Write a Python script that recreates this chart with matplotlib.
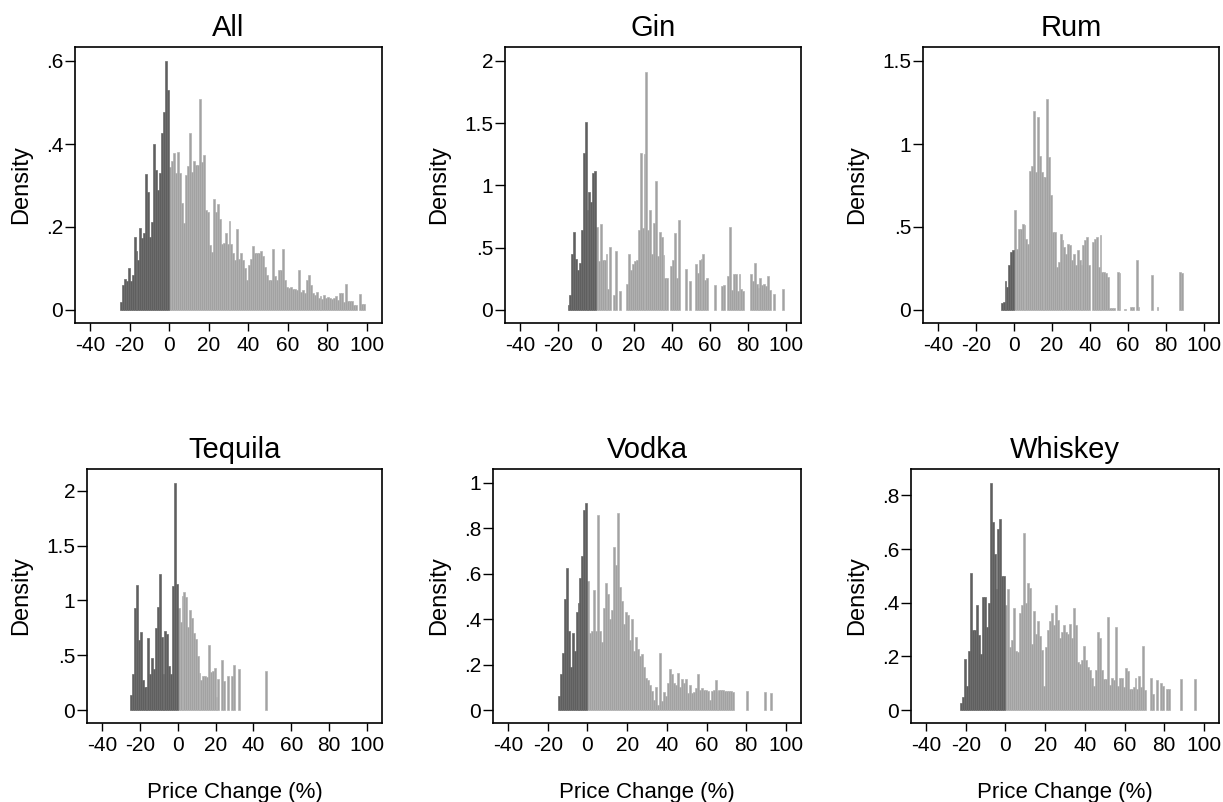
import matplotlib
matplotlib.use("Agg")
import matplotlib.pyplot as plt
import numpy as np

plt.rcParams['font.family'] = ['Liberation Sans', 'DejaVu Sans']

# ---------------- data (bin width 1, bins start at the listed left edge) ----------------
titles = ["All", "Gin", "Rum", "Tequila", "Vodka", "Whiskey"]

# negative price changes (dark bars), bins from start..-1
all_neg_start = -25
all_neg = [0.02, 0.06, 0.075, 0.07, 0.10, 0.07, 0.085, 0.175, 0.143, 0.12, 0.198, 0.173,
           0.186, 0.328, 0.285, 0.177, 0.213, 0.40, 0.337, 0.288, 0.33, 0.427, 0.478, 0.60, 0.53]
all_pos = [0.344, 0.36, 0.378, 0.33, 0.38, 0.33, 0.257, 0.21, 0.325, 0.347,
           0.427, 0.333, 0.36, 0.35, 0.35, 0.508, 0.357, 0.373, 0.24, 0.235,
           0.157, 0.14, 0.267, 0.235, 0.255, 0.22, 0.16, 0.162, 0.185, 0.159,
           0.215, 0.16, 0.137, 0.12, 0.194, 0.122, 0.137, 0.12, 0.10, 0.072,
           0.108, 0.122, 0.154, 0.137, 0.137, 0.137, 0.141, 0.129, 0.104, 0.084,
           0.072, 0.072, 0.146, 0.082, 0.072, 0.096, 0.096, 0.146, 0.072, 0.055,
           0.052, 0.055, 0.05, 0.05, 0.048, 0.096, 0.044, 0.047, 0.04, 0.072,
           0.084, 0.06, 0.04, 0.036, 0.044, 0.03, 0.034, 0.026, 0.036, 0.028,
           0.032, 0.028, 0.026, 0.028, 0.034, 0.024, 0.042, 0.04, 0.02, 0.062,
           0.022, 0.022, 0.022, 0.012, 0.012, 0.0, 0.039, 0.014, 0.014]

gin_neg_start = -15
gin_neg = [0.04, 0.12, 0.45, 0.63, 0.41, 0.32, 0.38, 0.64, 1.26, 1.51, 0.80, 0.95, 0.87, 1.10, 1.12]
gin_pos = [0.67, 0.39, 0.69, 0.40, 0.40, 0.45, 0.17, 0.51, 0.0, 0.12,
           0.47, 0.0, 0.155, 0.0, 0.0, 0.0, 0.21, 0.45, 0.32, 0.37,
           0.39, 0.40, 0.64, 1.26, 0.66, 1.25, 1.91, 0.64, 0.80, 0.45,
           0.70, 1.04, 0.43, 0.63, 0.59, 0.44, 0.26, 0.26, 0.0, 0.35,
           0.40, 0.62, 0.26, 0.72, 0.0, 0.0, 0.0, 0.33, 0.0, 0.23,
           0.0, 0.0, 0.37, 0.30, 0.40, 0.41, 0.45, 0.24, 0.26, 0.0,
           0.0, 0.0, 0.20, 0.0, 0.0, 0.0, 0.19, 0.20, 0.0, 0.27,
           0.67, 0.16, 0.29, 0.29, 0.155, 0.29, 0.165, 0.155, 0.0, 0.0,
           0.0, 0.29, 0.23, 0.38, 0.21, 0.18, 0.26, 0.20, 0.21, 0.19,
           0.27, 0.16, 0.0, 0.13, 0.0, 0.0, 0.0, 0.0, 0.165]

rum_neg_start = -7
rum_neg = [0.04, 0.05, 0.175, 0.14, 0.27, 0.35, 0.36]
rum_pos = [0.60, 0.37, 0.485, 0.49, 0.52, 0.51, 0.43, 0.40, 0.84, 0.87,
           1.20, 0.83, 1.16, 0.93, 0.83, 0.80, 0.80, 1.27, 0.92, 0.69,
           0.47, 0.47, 0.26, 0.29, 0.46, 0.42, 0.38, 0.34, 0.40, 0.39,
           0.30, 0.34, 0.27, 0.36, 0.30, 0.27, 0.39, 0.42, 0.44, 0.27,
           0.0, 0.41, 0.43, 0.44, 0.26, 0.45, 0.23, 0.23, 0.22, 0.20,
           0.01, 0.01, 0.01, 0.0, 0.23, 0.22, 0.0, 0.0, 0.006, 0.0,
           0.0, 0.02, 0.02, 0.0, 0.30, 0.02, 0.0, 0.0, 0.0, 0.0,
           0.0, 0.0, 0.21, 0.0, 0.0, 0.02, 0.0, 0.0, 0.0, 0.0,
           0.0, 0.0, 0.0, 0.0, 0.0, 0.0, 0.0, 0.23, 0.22]

teq_neg_start = -25
teq_neg = [0.14, 0.33, 0.93, 1.14, 0.64, 0.71, 0.27, 0.21, 0.21, 0.66, 0.33, 0.47, 0.37,
           0.75, 0.94, 1.24, 0.67, 0.33, 0.72, 0.69, 0.40, 0.33, 1.13, 2.07, 1.15]
teq_pos = [0.93, 0.80, 1.04, 1.08, 1.03, 0.76, 0.91, 0.84, 0.70, 0.65,
           0.49, 0.34, 0.27, 0.31, 0.31, 0.30, 0.59, 0.35, 0.36, 0.38,
           0.12, 0.28, 0.0, 0.46, 0.26, 0.0, 0.31, 0.0, 0.31, 0.41,
           0.0, 0.0, 0.37, 0.0, 0.0, 0.0, 0.0, 0.0, 0.0, 0.0,
           0.0, 0.0, 0.0, 0.0, 0.0, 0.0, 0.36]

vod_neg_start = -15
vod_neg = [0.06, 0.16, 0.25, 0.49, 0.625, 0.35, 0.19, 0.34, 0.26, 0.43, 0.47, 0.58, 0.68, 0.88, 0.91]
vod_pos = [0.57, 0.34, 0.35, 0.53, 0.35, 0.86, 0.35, 0.30, 0.45, 0.56,
           0.51, 0.40, 0.44, 0.72, 0.64, 0.87, 0.54, 0.48, 0.38, 0.43,
           0.42, 0.31, 0.40, 0.26, 0.32, 0.27, 0.24, 0.245, 0.19, 0.14,
           0.13, 0.11, 0.085, 0.045, 0.10, 0.02, 0.25, 0.04, 0.08, 0.06,
           0.12, 0.18, 0.16, 0.12, 0.11, 0.165, 0.10, 0.135, 0.12, 0.135,
           0.075, 0.11, 0.075, 0.08, 0.095, 0.16, 0.09, 0.095, 0.09, 0.09,
           0.085, 0.045, 0.085, 0.09, 0.13, 0.085, 0.09, 0.09, 0.09, 0.085,
           0.085, 0.085, 0.085, 0.08, 0.0, 0.0, 0.0, 0.0, 0.0, 0.0,
           0.085, 0.0, 0.0, 0.0, 0.0, 0.0, 0.0, 0.0, 0.0, 0.08,
           0.0, 0.0, 0.075]

whi_neg_start = -23
whi_neg = [0.027, 0.05, 0.19, 0.09, 0.22, 0.51, 0.30, 0.30, 0.39, 0.28, 0.21, 0.42,
           0.42, 0.31, 0.40, 0.846, 0.70, 0.58, 0.45, 0.675, 0.71, 0.50, 0.50]
whi_pos = [0.39, 0.45, 0.235, 0.26, 0.38, 0.22, 0.215, 0.36, 0.39, 0.66,
           0.40, 0.475, 0.455, 0.245, 0.37, 0.285, 0.33, 0.275, 0.225, 0.09,
           0.235, 0.30, 0.33, 0.36, 0.315, 0.39, 0.335, 0.27, 0.29, 0.315,
           0.29, 0.285, 0.32, 0.27, 0.38, 0.315, 0.18, 0.17, 0.185, 0.24,
           0.185, 0.16, 0.15, 0.12, 0.09, 0.15, 0.29, 0.27, 0.15, 0.115,
           0.115, 0.345, 0.095, 0.12, 0.11, 0.31, 0.09, 0.12, 0.12, 0.085,
           0.155, 0.145, 0.08, 0.08, 0.085, 0.12, 0.08, 0.125, 0.085, 0.24,
           0.075, 0.0, 0.0, 0.12, 0.06, 0.0, 0.11, 0.0, 0.10, 0.09,
           0.0, 0.08, 0.08, 0.0, 0.0, 0.0, 0.0, 0.0, 0.115, 0.0,
           0.0, 0.0, 0.0, 0.0, 0.0, 0.115]

neg_starts = [all_neg_start, gin_neg_start, rum_neg_start, teq_neg_start, vod_neg_start, whi_neg_start]
negs = [all_neg, gin_neg, rum_neg, teq_neg, vod_neg, whi_neg]
poss = [all_pos, gin_pos, rum_pos, teq_pos, vod_pos, whi_pos]

yticks_list = [[0, 0.2, 0.4, 0.6], [0, 0.5, 1, 1.5, 2], [0, 0.5, 1, 1.5],
               [0, 0.5, 1, 1.5, 2], [0, 0.2, 0.4, 0.6, 0.8, 1], [0, 0.2, 0.4, 0.6, 0.8]]
xticks = [-40, -20, 0, 20, 40, 60, 80, 100]

def stata_fmt(v):
    s = ("%g" % v)
    if s.startswith("0."):
        s = s[1:]
    return s

# ---------------- layout (pixel boxes: left, right, top, bottom) ----------------
W, H = 1223, 802
boxes = [(75, 382, 47, 323), (505, 801, 47, 323), (923, 1219, 47, 323),
         (87, 382, 469, 723), (493, 801, 469, 723), (911, 1219, 469, 723)]

fig = plt.figure(figsize=(W / 100, H / 100), dpi=100)
fig.patch.set_facecolor('white')

dark_fc, dark_ec = '#5f5f5f', '#6c6c6c'
light_fc, light_ec = '#a2a2a2', '#b2b2b2'

for i in range(6):
    l, r, t, b = boxes[i]
    ax = fig.add_axes([l / W, 1 - b / H, (r - l) / W, (b - t) / H])
    neg = np.array(negs[i])
    pos = np.array(poss[i])
    xn = np.arange(neg_starts[i], neg_starts[i] + len(neg))
    xp = np.arange(0, len(pos))
    mn = neg > 0
    mp = pos > 0
    ax.bar(xp[mp], pos[mp], width=1.0, align='edge', color=light_fc,
           edgecolor=light_ec, linewidth=0.5, zorder=2)
    ax.bar(xn[mn], neg[mn], width=1.0, align='edge', color=dark_fc,
           edgecolor=dark_ec, linewidth=0.5, zorder=3)

    # x range: 15 px padding each side of the -40..100 span
    span_px = (r - l) - 30
    pad_x = 15 * 140 / span_px
    ax.set_xlim(-40 - pad_x, 100 + pad_x)
    # y range: 13 px below zero, 14 px above max(top tick, data max)
    yt = yticks_list[i]
    top_val = max(yt[-1], neg.max(), pos.max())
    ppu = ((b - t) - 27) / top_val
    ax.set_ylim(-13 / ppu, top_val + 14 / ppu)

    ax.set_xticks(xticks)
    ax.set_xticklabels([str(v) for v in xticks])
    ax.set_yticks(yt)
    ax.set_yticklabels([stata_fmt(v) for v in yt])
    ax.tick_params(axis='both', labelsize=15, width=1.0, color='black',
                   direction='out', top=False, right=False)
    ax.tick_params(axis='y', pad=1.5, length=7)
    ax.tick_params(axis='x', pad=3.5, length=6)
    for sp in ax.spines.values():
        sp.set_linewidth(1.2)
        sp.set_color('black')

    ax.set_title(titles[i], fontsize=21, pad=8)
    ax.set_ylabel("Density", fontsize=17, labelpad=10)
    if i >= 3:
        ax.set_xlabel("Price Change (%)", fontsize=16, labelpad=19)

fig.savefig("out.png", dpi=100, facecolor='white')
